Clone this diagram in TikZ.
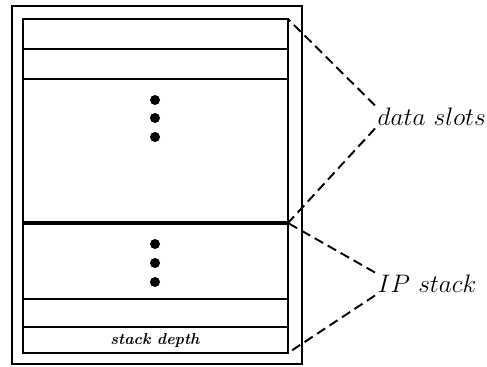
\documentclass[tikz,border=0pt]{standalone}
\begin{document}
\begin{tikzpicture}[x=0.02cm,y=-0.02cm,line width=1.1pt,
  lead/.style={dash pattern=on 5.5pt off 3pt,line width=1.1pt},
  lbl/.style={font=\Large,inner sep=1pt,anchor=west}]
\useasboundingbox (0,0) rectangle (487,367);
\draw (12,6) rectangle (302,364);
\draw (23,19) rectangle (288,353);
\draw (23,49)--(288,49);
\draw (23,79)--(288,79);
\draw[line width=1.9pt] (23,223)--(288,223);
\draw (23,299)--(288,299);
\draw (23,327)--(288,327);
\foreach \y in {100,118,137,244,263,282} \fill (155,\y) circle (0.1cm);
\node[font=\bfseries\itshape\small] (d) at (155,341) {stack depth};
\coordinate (t) at (288,19);
\coordinate (m) at (288,223);
\coordinate (b) at (288,353);
\node[lbl] (s) at (375,117) {$data\ slots$};
\node[lbl] (p) at (375,284) {$IP\ stack$};
\draw[lead] (s.north west)--(t);
\draw[lead] (s.south west)--(m);
\draw[lead] (p.north west)--(m);
\draw[lead] (p.south west)--(b);
\end{tikzpicture}
\end{document}
